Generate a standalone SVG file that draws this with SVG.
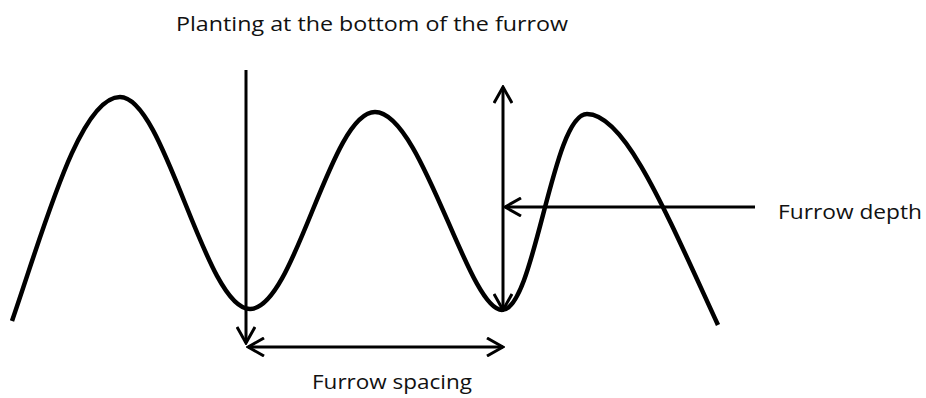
<svg xmlns="http://www.w3.org/2000/svg" width="926" height="398" viewBox="0 0 926 398">
<defs>
<marker id="ah" viewBox="0 0 20 20" refX="18" refY="10" markerWidth="20" markerHeight="20" markerUnits="userSpaceOnUse" orient="auto-start-reverse">
<path d="M2,1 L18,10 L2,19" fill="none" stroke="#000" stroke-width="3"/>
</marker>
<style>
.lbl{font-family:"Open Sans","Liberation Sans",sans-serif;font-size:20px;fill:#111}
.arr{fill:none;stroke:#000;stroke-width:3}
.ground{fill:none;stroke:#000;stroke-width:4.5;stroke-linecap:butt}
</style>
</defs>
<rect width="926" height="398" fill="#fff"/>
<g id="ground">
<path class="ground" d="M12,321 C45,225 80,97 120,97 C165,97 205,309 250,309 C295,309 330,112 375,112 C422,112 468,310 502,310 C535,310 552,114 587,114 C625,114 665,210 718,325"/>
</g>
<g id="connectors">
<path class="arr" d="M246,70 L246,343" marker-end="url(#ah)"/>
<path class="arr" d="M248,347 L503,347" marker-start="url(#ah)" marker-end="url(#ah)"/>
<path class="arr" d="M503,87 L503,310" marker-start="url(#ah)" marker-end="url(#ah)"/>
<path class="arr" d="M755,207 L505,207" marker-end="url(#ah)"/>
</g>
<g id="title"><text class="lbl" x="176" y="31" textLength="392" lengthAdjust="spacingAndGlyphs">Planting at the bottom of the furrow</text></g>
<g id="depth"><text class="lbl" x="778" y="219" textLength="144" lengthAdjust="spacingAndGlyphs">Furrow depth</text></g>
<g id="spacing"><text class="lbl" x="312" y="389" textLength="160" lengthAdjust="spacingAndGlyphs">Furrow spacing</text></g>
</svg>
